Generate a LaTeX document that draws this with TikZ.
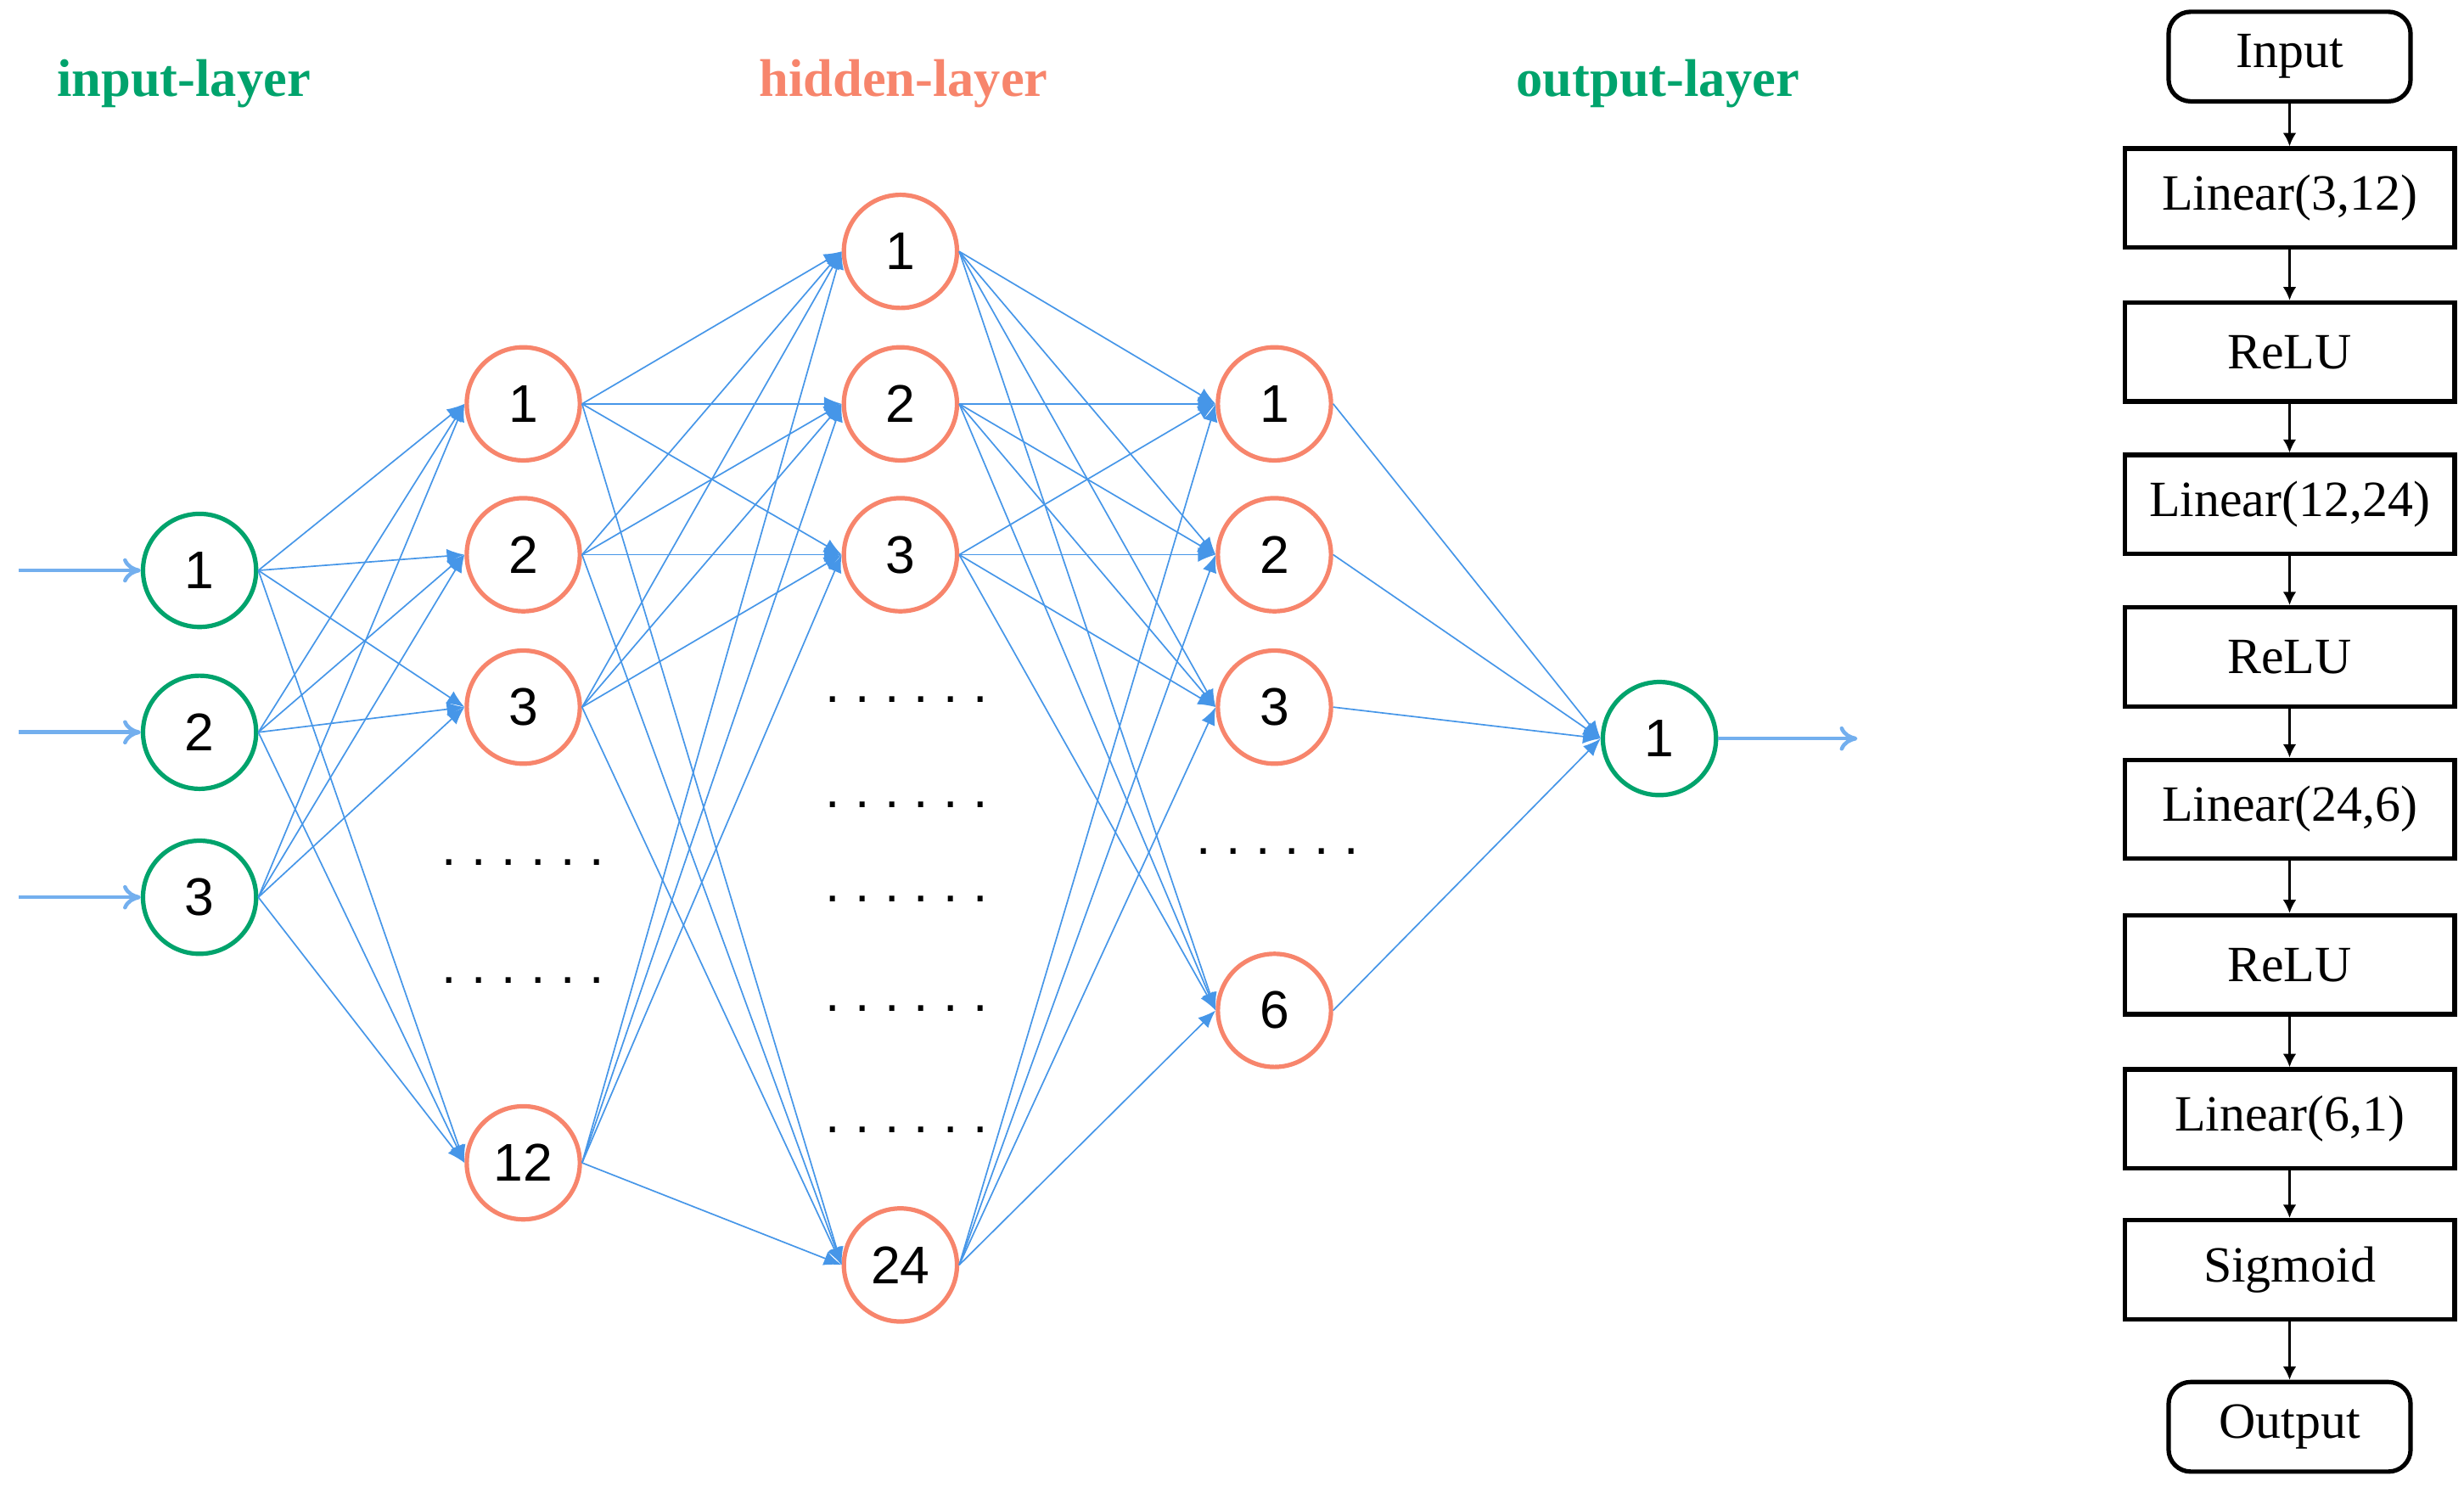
\documentclass[tikz,border=0pt]{standalone}
\usepackage{fontspec}
\setmainfont{Liberation Serif}
\newfontfamily\numfont{Liberation Sans}
\usetikzlibrary{arrows.meta}
\definecolor{cgreen}{RGB}{0,163,108}
\definecolor{csalmon}{RGB}{247,133,108}
\definecolor{cblue}{RGB}{70,150,232}
\definecolor{clblue}{RGB}{115,175,238}
\newcommand{\sixdots}{.\hspace{0.28em}.\hspace{0.28em}.\hspace{0.28em}.\hspace{0.28em}.\hspace{0.28em}.}
\begin{document}
\begin{tikzpicture}[x=0.05cm,y=-0.05cm,
  neu/.style={circle,draw,line width=4pt,minimum size=3.6cm,inner sep=0pt,font=\numfont\fontsize{48}{52}\selectfont,fill=white},
  gn/.style={neu,draw=cgreen},
  sn/.style={neu,draw=csalmon},
  edge/.style={draw=cblue,line width=1.3pt,-{Latex[length=16pt,width=13pt]}},
  io/.style={draw=clblue,line width=3.5pt,-{To[length=16pt,width=22pt]}},
  dots/.style={font=\numfont\fontsize{48}{52}\selectfont},
  ttl/.style={font=\bfseries\fontsize{48}{52}\selectfont},
  box/.style={draw,line width=4pt,minimum width=10.5cm,minimum height=3.15cm,font=\fontsize{46}{50}\selectfont},
  rbox/.style={box,rounded corners=0.7cm,minimum width=7.7cm,minimum height=2.85cm},
  flow/.style={line width=2pt,-{Latex[length=12pt,width=12pt]}}]
\useasboundingbox (0,0) rectangle (1568,946);
% titles
\node[ttl,text=cgreen] (t1) at (117,53) {input-layer};
\node[ttl,text=csalmon] (t2) at (575,53) {hidden-layer};
\node[ttl,text=cgreen] (t3) at (1055,53) {output-layer};
% dots
\foreach \y/\n in {557/a,632/b} \node[dots] (d1\n) at (333,\y-8) {\sixdots};
\foreach \y/\n in {453/a,520/b,580/c,650/d,727/e} \node[dots] (d2\n) at (577,\y-8) {\sixdots};
\node[dots] (d3a) at (813,542) {\sixdots};
% nodes
\foreach \y/\n in {363/1,466/2,571/3} \node[gn] (i\n) at (127,\y) {\n};
\foreach \y/\n in {257/1,353/2,450/3,740/12} \node[sn] (a\n) at (333,\y) {\n};
\foreach \y/\n in {160/1,257/2,353/3,805/24} \node[sn] (b\n) at (573,\y) {\n};
\foreach \y/\n in {257/1,353/2,450/3,643/6} \node[sn] (c\n) at (811,\y) {\n};
\node[gn] (o1) at (1056,470) {1};
% edges
\foreach \s in {1,2,3} \foreach \t in {1,2,3,12} \draw[edge] (i\s.east) -- (a\t.west);
\foreach \s in {1,2,3,12} \foreach \t in {1,2,3,24} \draw[edge] (a\s.east) -- (b\t.west);
\foreach \s in {1,2,3,24} \foreach \t in {1,2,3,6} \draw[edge] (b\s.east) -- (c\t.west);
\foreach \s in {1,2,3,6} \draw[edge] (c\s.east) -- (o1.west);
% io arrows
\foreach \n/\y in {1/363,2/466,3/571} {\coordinate (s\n) at (12,\y); \draw[io] (s\n) -- (i\n.west);}
\coordinate (oe) at (1182,470);
\draw[io] (o1.east) -- (oe);
% flow chart
\node[rbox] (f0) at (1457,36) {Input};
\node[box] (f1) at (1457,126) {Linear(3,12)};
\node[box] (f2) at (1457,224) {ReLU};
\node[box] (f3) at (1457,321) {Linear(12,24)};
\node[box] (f4) at (1457,418) {ReLU};
\node[box] (f5) at (1457,515) {Linear(24,6)};
\node[box] (f6) at (1457,614) {ReLU};
\node[box] (f7) at (1457,712) {Linear(6,1)};
\node[box] (f8) at (1457,808) {Sigmoid};
\node[rbox] (f9) at (1457,908) {Output};
\foreach \a/\b in {f0/f1,f1/f2,f2/f3,f3/f4,f4/f5,f5/f6,f6/f7,f7/f8,f8/f9} \draw[flow] (\a) -- (\b);
\end{tikzpicture}
\end{document}
